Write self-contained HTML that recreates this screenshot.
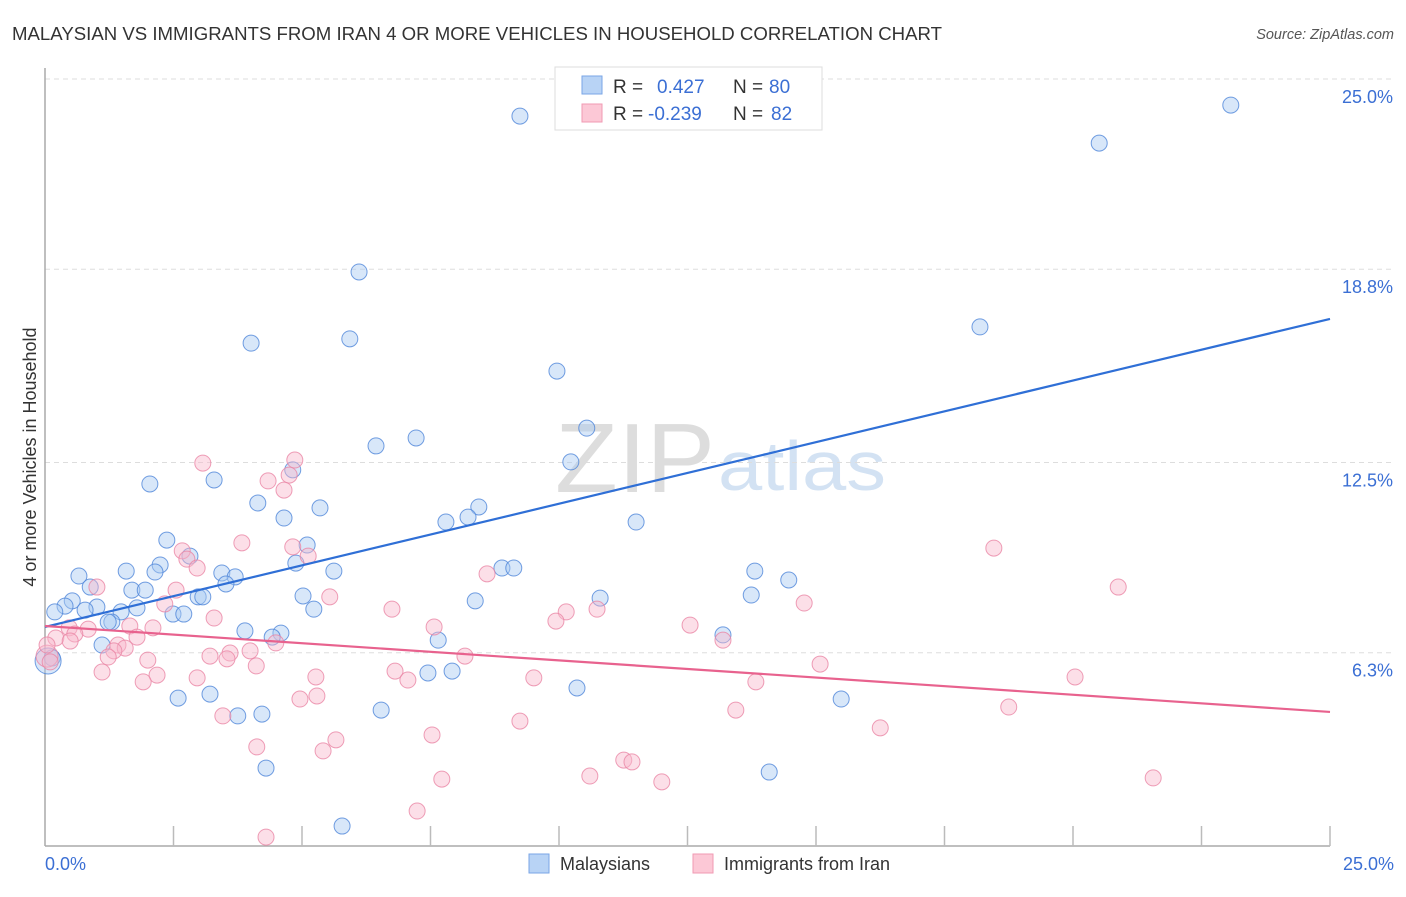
<!DOCTYPE html>
<html><head><meta charset="utf-8"><style>
body{margin:0;background:#fff;font-family:"Liberation Sans",sans-serif;}
svg text{font-family:"Liberation Sans",sans-serif;}
</style></head><body>
<svg width="1406" height="892" xmlns="http://www.w3.org/2000/svg">
<text x="12" y="40" font-size="18" fill="#333" textLength="930" lengthAdjust="spacingAndGlyphs">MALAYSIAN VS IMMIGRANTS FROM IRAN 4 OR MORE VEHICLES IN HOUSEHOLD CORRELATION CHART</text>
<text x="1394" y="39" font-size="14.5" fill="#555" text-anchor="end" font-style="italic">Source: ZipAtlas.com</text>
<text x="555" y="492" font-size="98" fill="#ddd" textLength="160" lengthAdjust="spacingAndGlyphs" font-family="Liberation Serif">ZIP</text>
<text x="718" y="490" font-size="70" fill="#d3e2f3" textLength="168" lengthAdjust="spacingAndGlyphs">atlas</text>
<g id="grid"></g>
<line x1="45" y1="68" x2="45" y2="846" stroke="#aaa" stroke-width="1.5"/>
<line x1="45" y1="846" x2="1330" y2="846" stroke="#aaa" stroke-width="1.5"/>
<g id="ticks"></g>
<text x="36" y="457" font-size="18" fill="#333" text-anchor="middle" transform="rotate(-90 36 457)">4 or more Vehicles in Household</text>
<text x="45" y="870" font-size="18" fill="#3b6fd4">0.0%</text>
<text x="1394" y="870" font-size="18" fill="#3b6fd4" text-anchor="end">25.0%</text>
<g id="pts"></g>
<g id="lines"></g>
<g>
<rect x="555" y="67" width="267" height="63" fill="#fff" stroke="#ddd"/>
<rect x="582" y="76" width="20" height="18" fill="#b8d3f5" stroke="#7aa6e6"/>
<rect x="582" y="104" width="20" height="18" fill="#fcc8d6" stroke="#f09ab3"/>
<text x="613" y="93" font-size="19" fill="#333">R =</text>
<text x="657" y="93" font-size="19" fill="#3b6fd4">0.427</text>
<text x="733" y="93" font-size="19" fill="#333">N =</text>
<text x="769" y="93" font-size="19" fill="#3b6fd4">80</text>
<text x="613" y="120" font-size="19" fill="#333">R =</text>
<text x="648" y="120" font-size="19" fill="#3b6fd4">-0.239</text>
<text x="733" y="120" font-size="19" fill="#333">N =</text>
<text x="771" y="120" font-size="19" fill="#3b6fd4">82</text>
</g>
<g>
<rect x="529" y="854" width="20" height="19" fill="#b8d3f5" stroke="#7aa6e6"/>
<text x="560" y="870" font-size="18" fill="#333">Malaysians</text>
<rect x="693" y="854" width="20" height="19" fill="#fcc8d6" stroke="#f09ab3"/>
<text x="724" y="870" font-size="18" fill="#333">Immigrants from Iran</text>
</g>
</svg>
<script>
const yTicks=[25,18.8,12.5,6.3];
const yTickLabels=["25.0%","18.8%","12.5%","6.3%"];
const xTicks=[2.5,5,7.5,10,12.5,15,17.5,20,22.5,25];
const blueX=[9.24,23.07,20.51,6.11,18.19,4.01,5.93,9.96,10.54,6.44,7.22,10.23,2.04,3.29,4.82,4.14,5.35,4.65,8.44,8.23,7.80,11.50,2.37,5.10,2.82,0.66,1.58,2.24,2.14,3.44,3.70,3.52,4.88,5.62,8.89,9.12,13.81,14.47,0.88,1.69,1.95,2.98,3.07,5.02,5.23,8.37,10.80,13.74,0.53,0.39,0.19,1.01,0.78,1.48,1.79,2.49,2.70,1.30,1.23,3.89,4.59,4.42,7.65,13.19,1.11,0.14,0.06,7.45,7.92,10.35,2.59,3.21,15.49,3.75,4.22,6.54,4.30,14.09,5.78];
const blueY=[23.79,24.15,22.91,18.71,16.92,16.39,16.53,15.48,13.62,13.04,13.30,12.52,11.80,11.93,12.26,11.18,11.02,10.69,11.05,10.72,10.56,10.56,9.97,9.81,9.45,8.80,8.96,9.16,8.93,8.90,8.77,8.54,9.22,8.96,9.06,9.06,8.96,8.67,8.44,8.34,8.34,8.12,8.12,8.15,7.72,7.99,8.08,8.18,7.99,7.82,7.63,7.79,7.69,7.63,7.76,7.56,7.56,7.30,7.30,7.01,6.94,6.81,6.71,6.88,6.55,6.13,6.03,5.64,5.70,5.15,4.82,4.95,4.79,4.24,4.30,4.43,2.54,2.41,0.65];
const pinkX=[3.07,4.86,4.75,4.34,4.65,18.46,3.83,2.67,4.82,5.12,2.76,2.96,8.60,20.88,1.01,2.55,5.54,2.33,14.77,6.75,10.14,10.74,9.94,3.29,12.55,7.57,0.47,0.84,0.58,0.21,0.49,1.65,2.10,1.79,13.19,4.49,1.42,1.56,1.34,3.99,3.60,3.21,1.23,3.54,0.04,0.10,8.17,2.00,4.11,15.08,6.81,1.11,2.18,5.27,7.06,9.51,2.96,1.91,20.04,13.83,5.29,4.96,13.44,3.46,18.75,9.24,16.25,7.53,5.66,4.12,5.41,11.26,11.42,7.72,10.60,12.00,21.56,7.24,4.30,0.04];
const pinkY=[12.48,12.58,12.09,11.90,11.60,9.71,9.88,9.62,9.75,9.45,9.35,9.06,8.87,8.44,8.44,8.34,8.12,7.89,7.92,7.72,7.63,7.72,7.33,7.43,7.20,7.14,7.11,7.07,6.91,6.78,6.68,7.17,7.11,6.81,6.71,6.62,6.55,6.45,6.36,6.36,6.29,6.19,6.16,6.10,6.19,6.00,6.19,6.06,5.87,5.93,5.70,5.67,5.57,5.51,5.41,5.48,5.48,5.35,5.51,5.35,4.89,4.79,4.43,4.24,4.53,4.07,3.85,3.62,3.46,3.23,3.10,2.80,2.74,2.18,2.28,2.09,2.22,1.14,0.29,6.55];
const blueTrend=[7.14,17.18];
const pinkTrend=[7.17,4.37];
const NS="http://www.w3.org/2000/svg";
const sx=v=>45+v*51.4, sy=v=>846-v*30.68;
function mk(tag,attrs,parent){const e=document.createElementNS(NS,tag);for(const k in attrs)e.setAttribute(k,attrs[k]);document.getElementById(parent).appendChild(e);return e;}
yTicks.forEach((t,i)=>{
 const l=mk('line',{x1:45,x2:1392,y1:sy(t),y2:sy(t),stroke:'#ddd','stroke-dasharray':'5,4'},'grid');
 
 
 const tx=mk('text',{x:1393,y:sy(t)+24,'font-size':18,fill:'#3b6fd4','text-anchor':'end'},'grid');
 tx.textContent=yTickLabels[i];
 
 
});
xTicks.forEach(t=>{
 const l=mk('line',{x1:sx(t),x2:sx(t),y1:826,y2:846,stroke:'#bbb','stroke-width':1.5},'ticks');
 
 
});
function dots(X,Y,fill,stroke,name,bigIdx,bigR){
 X.forEach((x,i)=>{
  const c=mk('circle',{cx:sx(x),cy:sy(Y[i]),r:i===bigIdx?bigR:8,fill:fill,'fill-opacity':0.45,stroke:stroke,'stroke-opacity':0.8,'stroke-width':1},'pts');
  
  
 });
}
dots(blueX,blueY,'#a9c9f2','#4f86d9','malaysian-point',66,13);
dots(pinkX,pinkY,'#f9b9cb','#ea86a5','iran-point',44,11);
const b=mk('line',{x1:sx(0),y1:sy(blueTrend[0]),x2:sx(25),y2:sy(blueTrend[1]),stroke:'#2f6fd6','stroke-width':2.2},'lines');


const p=mk('line',{x1:sx(0),y1:sy(pinkTrend[0]),x2:sx(25),y2:sy(pinkTrend[1]),stroke:'#e8628e','stroke-width':2.2},'lines');


</script>
</body></html>
